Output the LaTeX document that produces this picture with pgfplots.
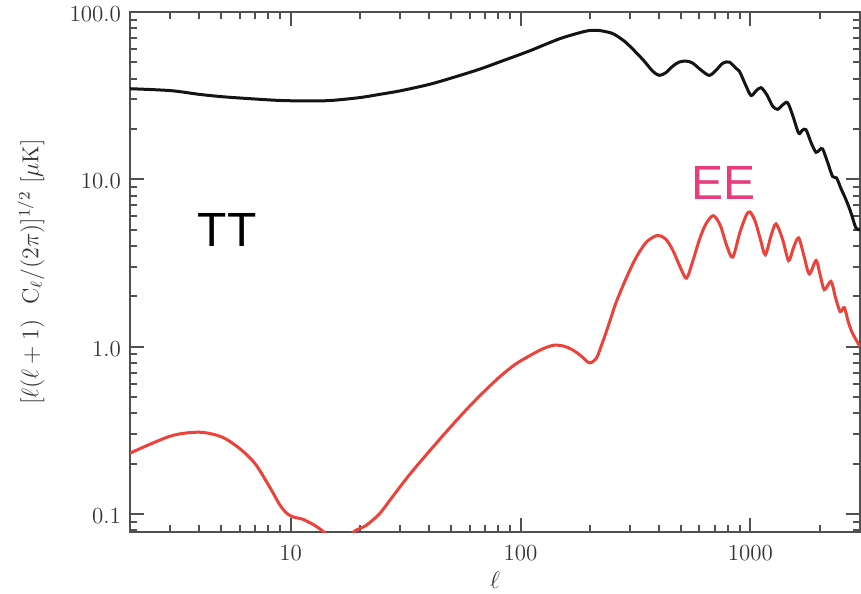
\documentclass[border=0pt]{standalone}
\usepackage{pgfplots}
\pgfplotsset{compat=1.18}
\usepackage{fontspec}
\newfontfamily\labfont{Liberation Sans}
\definecolor{ttcol}{RGB}{20,20,20}
\definecolor{eecol}{RGB}{236,66,58}
\definecolor{eelab}{RGB}{230,62,125}
\definecolor{framecol}{RGB}{80,80,80}

\pgfplotstableread{
l v
2 34.8
3 33.9
4 32.2
5 31.2
6.5 30.4
9 29.6
12 29.4
15 29.6
20 30.8
24.4 32.2
30 33.8
40 36.9
50 40.3
66 45.4
85 51.5
109 58.4
130 64.5
153 70.3
193 76.9
216 77.7
240 75.8
256 73.5
288 65.6
340 52.1
376 44.3
402 41.8
430 43.5
460 47.5
490 50.2
525 50.9
560 49.6
610 45.0
663 41.8
710 45.0
760 49.5
810 50.2
860 46.5
896 44.3
958 36.1
1007 31.7
1060 33.8
1113 35.3
1180 32.0
1250 27.4
1314 26.2
1380 27.8
1452 28.7
1530 24.0
1622 18.9
1680 19.6
1746 19.8
1840 16.5
1931 14.5
2000 15.0
2062 15.2
2170 12.6
2279 10.4
2370 10.2
2480 8.8
2606 7.56
2740 6.32
2880 5.12
3000 5.0
}\tt

\pgfplotstableread{
l v
2 0.231
3 0.292
4 0.308
5 0.289
6 0.246
7 0.200
8.1 0.145
9.1 0.110
10 0.0973
11.3 0.0929
12.7 0.0856
13.8 0.079
15 0.072
17 0.068
19 0.079
21.3 0.0855
24.4 0.1006
28 0.1289
33 0.1727
40 0.236
50 0.335
60 0.44
70 0.545
82 0.668
95 0.785
110 0.885
125 0.97
140 1.02
155 1.005
170 0.95
183.5 0.88
199.6 0.80
213.5 0.85
222.8 0.98
235.8 1.22
247.9 1.50
260.7 1.84
283 2.42
308 3.12
329 3.68
357 4.28
395 4.62
427 4.41
459 3.79
500 2.9
528 2.57
560 3.2
600 4.35
640 5.4
690 6.06
740 5.3
790 4.0
838 3.43
900 4.8
960 6.1
997 6.38
1050 5.6
1110 4.3
1162 3.54
1230 4.6
1293 5.41
1380 4.4
1467 3.27
1540 3.9
1622 4.46
1710 3.5
1805 2.72
1931 3.27
2010 2.7
2098 2.19
2244 2.45
2350 1.95
2460 1.62
2563 1.71
2670 1.4
2785 1.20
3000 1.0
}\ee

\begin{document}
\begin{tikzpicture}
\begin{axis}[
  name=ax,
  scale only axis, width=365pt, height=260pt,
  xmode=log, ymode=log,
  xmin=2, xmax=3000, ymin=0.078, ymax=100,
  xtick={10,100,1000}, xticklabels={10,100,1000},
  ytick={0.1,1,10,100}, yticklabels={0.1,1.0,10.0,100.0},
  minor xtick={2,3,4,5,6,7,8,9,20,30,40,50,60,70,80,90,200,300,400,500,600,700,800,900,2000,3000},
  minor ytick={0.08,0.09,0.2,0.3,0.4,0.5,0.6,0.7,0.8,0.9,2,3,4,5,6,7,8,9,20,30,40,50,60,70,80,90},
  tick align=inside,
  major tick length=7pt, minor tick length=3.5pt,
  axis line style={framecol, line width=1.2pt},
  every tick/.style={framecol, line width=1pt},
  tick label style={font=\fontsize{11.5}{13}\selectfont, text=black!80},
  xticklabel style={yshift=-3pt},
  yticklabel style={xshift=-1pt, yshift=-1pt},
  xlabel={$\ell$},
  ylabel={$[\ell(\ell+1)\ \ \mathrm{C}_\ell/(2\pi)]^{1/2}\ [\mu\mathrm{K}]$},
  every axis x label/.style={at={(axis description cs:0.5,-0.092)}, anchor=center, font=\fontsize{12}{14}\selectfont, text=black!80},
  every axis y label/.style={at={(axis description cs:-0.1356,0.5)}, anchor=center, rotate=90, font=\fontsize{11.5}{13}\selectfont, text=black!80},
  clip=true,
]
\addplot[ttcol, line width=1.5pt, smooth] table[x=l, y=v] {\tt};
\addplot[eecol, line width=1.5pt, smooth] table[x=l, y=v] {\ee};
\node[font=\labfont\fontsize{24}{28}\selectfont, text=black] at (axis cs:5.3,4.96) {TT};
\node[font=\labfont\fontsize{24}{28}\selectfont, text=eelab] at (axis cs:763,9.55) {EE};
\end{axis}
\pgfresetboundingbox
\path[use as bounding box] ([xshift=-65pt,yshift=-30.5pt]ax.south west) rectangle ([xshift=0.5pt,yshift=6pt]ax.north east);
\end{tikzpicture}
\end{document}
